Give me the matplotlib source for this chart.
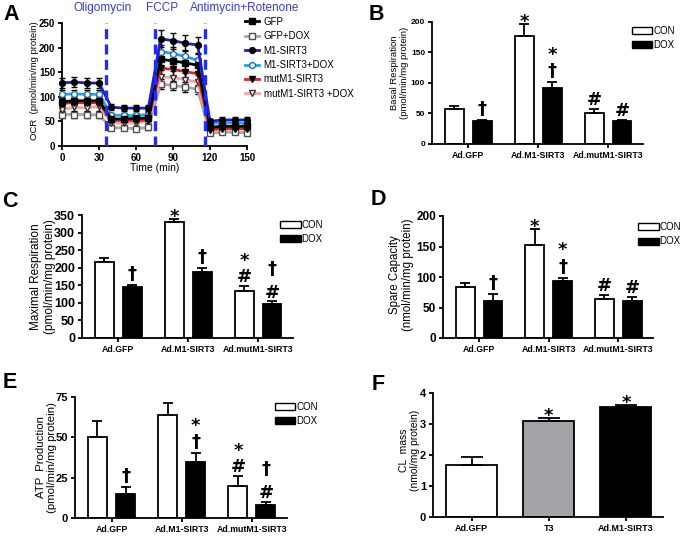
import matplotlib
matplotlib.use('Agg')
import matplotlib.pyplot as plt
import matplotlib.transforms as mtransforms
from matplotlib.patches import Patch

plt.rcParams['font.family'] = ['Liberation Sans', 'DejaVu Sans']
plt.rcParams['font.weight'] = 'bold'
plt.rcParams['axes.linewidth'] = 1.3

# ---------------- panel A : OCR trace ----------------
time_min = [0, 10, 20, 30, 40, 50, 60, 70, 80, 90, 100, 110, 120, 130, 140, 150]
injections = [36, 75, 116]
injection_names = ['Oligomycin', 'FCCP', 'Antimycin+Rotenone']

ocr_gfp = [90, 92, 92, 92, 55, 55, 56, 57, 176, 173, 169, 164, 38, 40, 40, 40]
ocr_gfp_dox = [64, 64, 64, 63, 37, 37, 35, 38, 126, 123, 120, 115, 26, 28, 28, 27]
ocr_m1 = [128, 130, 128, 128, 79, 77, 77, 77, 218, 214, 209, 205, 50, 53, 53, 53]
ocr_m1_dox = [105, 106, 105, 105, 63, 62, 62, 64, 192, 188, 182, 174, 46, 47, 47, 46]
ocr_mut = [87, 88, 88, 88, 52, 52, 52, 53, 158, 156, 151, 147, 33, 35, 35, 35]
ocr_mut_dox = [74, 79, 77, 81, 47, 46, 47, 50, 141, 139, 135, 130, 36, 37, 37, 37]

err_gfp = [9, 9, 9, 9, 6, 6, 6, 6, 14, 14, 14, 14, 5, 5, 5, 5]
err_gfp_dox = [7, 7, 7, 7, 5, 5, 5, 5, 10, 10, 10, 10, 4, 4, 4, 4]
err_m1 = [10, 10, 10, 10, 6, 6, 6, 6, 17, 16, 16, 16, 5, 5, 5, 5]
err_m1_dox = [8, 8, 8, 8, 5, 5, 5, 5, 13, 13, 13, 13, 4, 4, 4, 4]
err_mut = [9, 9, 9, 9, 6, 6, 6, 6, 14, 14, 14, 14, 5, 5, 5, 5]
err_mut_dox = [9, 9, 9, 9, 6, 6, 6, 6, 14, 14, 14, 14, 5, 5, 5, 5]

# ---------------- bar panels B-E ----------------
groups = ['Ad.GFP', 'Ad.M1-SIRT3', 'Ad.mutM1-SIRT3']

basal_con = [57, 177, 51]
basal_con_err = [6, 20, 7]
basal_dox = [37, 92, 37]
basal_dox_err = [2, 9, 2]
basal_con_marks = ['', '*', '#']
basal_dox_marks = ['†', '†*', '#']

maximal_con = [216, 330, 135]
maximal_con_err = [11, 10, 13]
maximal_dox = [146, 187, 98]
maximal_dox_err = [4, 13, 6]
maximal_con_marks = ['', '*', '#*']
maximal_dox_marks = ['†', '†', '#†']

spare_con = [83, 152, 64]
spare_con_err = [7, 26, 7]
spare_dox = [61, 93, 60]
spare_dox_err = [11, 6, 7]
spare_con_marks = ['', '*', '#']
spare_dox_marks = ['†', '†*', '#']

atp_con = [50, 64, 20]
atp_con_err = [10, 7, 6]
atp_dox = [15, 35, 8]
atp_dox_err = [4, 5, 2]
atp_con_marks = ['', '', '#*']
atp_dox_marks = ['†', '†*', '#†']

# ---------------- panel F ----------------
cl_groups = ['Ad.GFP', 'T3', 'Ad.M1-SIRT3']
cl_mass = [1.67, 3.1, 3.55]
cl_err = [0.25, 0.1, 0.05]
cl_marks = ['', '*', '*']
cl_colors = ['white', '#a4a4a8', 'black']

W, H = 683, 537
fig = plt.figure(figsize=(W / 100, H / 100), dpi=100)


def px_axes(left, right, top, bottom):
    return fig.add_axes([left / W, 1 - bottom / H, (right - left) / W, (bottom - top) / H])


def style_axes(ax, tick_size):
    for s in ['top', 'right']:
        ax.spines[s].set_visible(False)
    ax.tick_params(direction='out', length=3, width=1.3, pad=2, labelsize=tick_size)


# ink bottom of each symbol above the baseline, in em
INK_BOTTOM = {'*': 0.38, '†': -0.12, '#': 0.0}


def add_marks(ax, x, top, marks):
    # marks are listed bottom -> top, drawn as one stacked text
    if not marks:
        return
    size = 13
    dy = 3 - (0.24 + INK_BOTTOM[marks[0]]) * size
    ls = 0.88 if marks[-1] == '*' else 1.4
    ax.annotate('\n'.join(reversed(marks)), xy=(x, top), xytext=(0, dy),
                textcoords='offset points', ha='center', va='bottom',
                fontsize=size, family='DejaVu Sans', fontweight='bold',
                linespacing=ls, annotation_clip=False)


def bar_panel(ax, con, con_err, dox, dox_err, con_marks, dox_marks,
              ymax, ystep, tick_size, ylabel, ylab_size, ylab_x, ylab_y,
              linesp, leg_xy):
    x = range(len(groups))
    xc = [i - 0.2 for i in x]
    xd = [i + 0.2 for i in x]
    ax.bar(xc, con, width=0.27, color='white', edgecolor='black', linewidth=1.3,
           yerr=[[0] * 3, con_err], capsize=3.5,
           error_kw=dict(elinewidth=1.3, capthick=1.3), zorder=2)
    ax.bar(xd, dox, width=0.27, color='black', edgecolor='black', linewidth=1.3,
           yerr=[[0] * 3, dox_err], capsize=3.5,
           error_kw=dict(elinewidth=1.3, capthick=1.3), zorder=2)
    for i in x:
        add_marks(ax, xc[i], con[i] + con_err[i], con_marks[i])
        add_marks(ax, xd[i], dox[i] + dox_err[i], dox_marks[i])
    ax.set_xlim(-0.52, 2.5)
    ax.set_ylim(0, ymax)
    ax.set_yticks(range(0, ymax + 1, ystep))
    ax.set_xticks(list(x))
    ax.set_xticklabels(groups, fontsize=6.3)
    style_axes(ax, tick_size)
    ax.tick_params(axis='x', labelsize=6.3)
    ax.set_ylabel(ylabel, fontsize=ylab_size, linespacing=linesp)
    ax.yaxis.set_label_coords(ylab_x, ylab_y)
    handles = [Patch(facecolor='white', edgecolor='black', linewidth=1),
               Patch(facecolor='black', edgecolor='black')]
    ax.legend(handles, ['CON', 'DOX'], loc='upper left', bbox_to_anchor=leg_xy,
              frameon=False, borderpad=0, borderaxespad=0, handlelength=2.1,
              handleheight=0.75, handletextpad=0.1, labelspacing=0.45,
              prop={'size': 7, 'weight': 'normal'})


# ---- A ----
axA = px_axes(62, 247, 23, 146)
series = [
    ('GFP+DOX', ocr_gfp_dox, err_gfp_dox, '#a8a8a8', 's', 'white', '#505050'),
    ('mutM1-SIRT3 +DOX', ocr_mut_dox, err_mut_dox, '#f5a3a3', 'v', 'white', '#303030'),
    ('mutM1-SIRT3', ocr_mut, err_mut, '#e32222', 'v', 'black', 'black'),
    ('M1-SIRT3+DOX', ocr_m1_dox, err_m1_dox, '#22a2ea', 'o', 'white', '#1a6fb0'),
    ('GFP', ocr_gfp, err_gfp, 'black', 's', 'black', 'black'),
    ('M1-SIRT3', ocr_m1, err_m1, '#1c1cd2', 'o', 'black', 'black'),
]
handles = {}
for name, y, e, lc, mk, mfc, mec in series:
    axA.errorbar(time_min, y, yerr=e, fmt='none', ecolor='black', elinewidth=1.0,
                 capsize=2.2, capthick=1.0, zorder=2, clip_on=False)
    h, = axA.plot(time_min, y, color=lc, lw=2, marker=mk, ms=4.2, mfc=mfc,
                  mec=mec, mew=1.0, zorder=3, clip_on=False)
    handles[name] = h
for t in injections:
    axA.axvline(t, color='#1f2bff', lw=2.4, ls=(0, (3, 1.6)), zorder=4)
trA = mtransforms.blended_transform_factory(axA.transData, axA.transAxes)
for t, name, dx in zip(injections, injection_names, [-27, -7, -12]):
    axA.text(t + dx, 1.12, name, transform=trA, color='#3a3ad6', fontsize=8.5,
             fontweight='normal', ha='left', va='center')
axA.set_xlim(0, 150)
axA.set_ylim(0, 250)
axA.set_xticks(time_min[::3])
axA.set_yticks(range(0, 251, 50))
style_axes(axA, 7)
axA.set_xlabel('Time (min)', fontsize=7.5)
axA.xaxis.set_label_coords(0.5, -0.135)
axA.set_ylabel('OCR  (pmol/min/mg protein)', fontsize=6.8)
axA.yaxis.set_label_coords(-0.125, 0.53)
order = ['GFP', 'GFP+DOX', 'M1-SIRT3', 'M1-SIRT3+DOX', 'mutM1-SIRT3', 'mutM1-SIRT3 +DOX']
axA.legend([handles[n] for n in order], order, loc='upper left',
           bbox_to_anchor=(0.99, 1.05), frameon=False, borderpad=0,
           borderaxespad=0, handlelength=1.4, handletextpad=0.5,
           labelspacing=0.45, numpoints=1, prop={'size': 7, 'weight': 'normal'})

# ---- B ----
axB = px_axes(432, 643, 22, 144)
bar_panel(axB, basal_con, basal_con_err, basal_dox, basal_dox_err,
          basal_con_marks, basal_dox_marks, 200, 50, 6,
          'Basal Respiration\n(pmol/min/mg protein)', 6.8, -0.11, 0.58, 1.05,
          (0.948, 0.97))

# ---- C ----
axC = px_axes(82, 293, 215, 338)
bar_panel(axC, maximal_con, maximal_con_err, maximal_dox, maximal_dox_err,
          maximal_con_marks, maximal_dox_marks, 350, 50, 9,
          'Maximal Respiration\n(pmol/min/mg protein)', 8.5, -0.125, 0.5, 1.15,
          (0.94, 0.96))

# ---- D ----
axD = px_axes(443, 653, 216, 338)
bar_panel(axD, spare_con, spare_con_err, spare_dox, spare_dox_err,
          spare_con_marks, spare_dox_marks, 200, 50, 8.5,
          'Spare Capacity\n(nmol/min/mg protein)', 8.3, -0.14, 0.52, 1.05,
          (0.93, 0.95))

# ---- E ----
axE = px_axes(75, 287, 397, 518)
bar_panel(axE, atp_con, atp_con_err, atp_dox, atp_dox_err,
          atp_con_marks, atp_dox_marks, 75, 25, 8,
          'ATP  Production\n(pmol/min/mg protein)', 8.2, -0.085, 0.5, 1.1,
          (0.943, 0.96))

# ---- F ----
axF = px_axes(433, 663, 393, 517)
xf = range(len(cl_groups))
axF.bar(xf, cl_mass, width=0.66, color=cl_colors, edgecolor='black', linewidth=1.3,
        yerr=[[0] * 3, cl_err], capsize=8,
        error_kw=dict(elinewidth=1.3, capthick=1.3), zorder=2)
for i in xf:
    add_marks(axF, i, cl_mass[i] + cl_err[i], cl_marks[i])
axF.set_xlim(-0.5, 2.48)
axF.set_ylim(0, 4)
axF.set_yticks(range(0, 5))
axF.set_xticks(list(xf))
axF.set_xticklabels(cl_groups, fontsize=6.5)
style_axes(axF, 8)
axF.tick_params(axis='x', labelsize=6.5)
axF.set_ylabel('CL  mass\n(nmol/mg protein)', fontsize=7.5, linespacing=1.15)
axF.yaxis.set_label_coords(-0.055, 0.54)

# panel letters
for letter, px, py in [('A', 3, 4), ('B', 369, 4), ('C', 2, 191), ('D', 371, 189),
                       ('E', 3, 372), ('F', 372, 374)]:
    fig.text(px / W, 1 - py / H, letter, fontsize=15.5, fontweight='bold',
             ha='left', va='top')

fig.savefig('out.png', dpi=100)
